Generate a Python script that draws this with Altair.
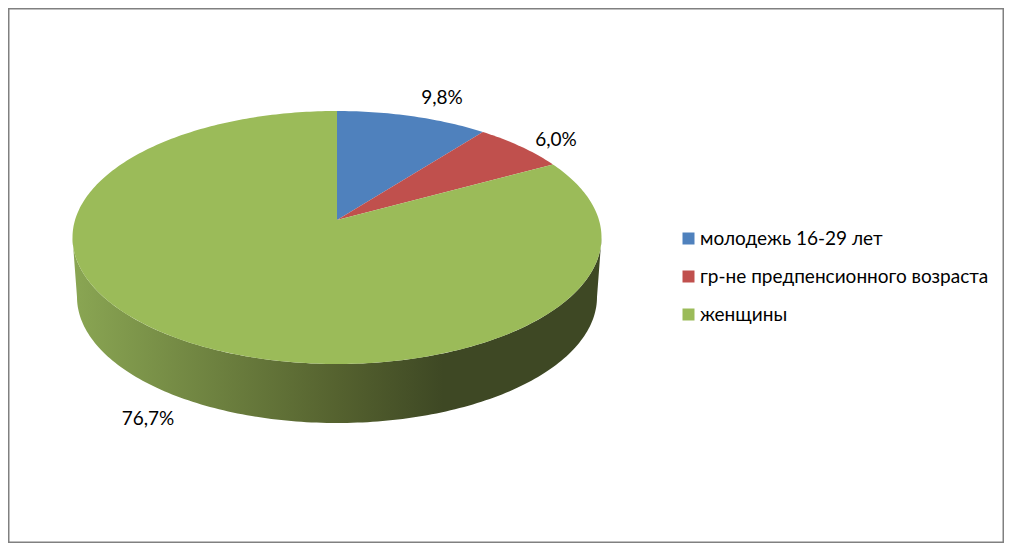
import math
import altair as alt

# --- data ---
categories = ["молодежь 16-29 лет", "гр-не предпенсионного возраста", "женщины"]
shares = [9.8, 6.0, 76.7]
share_labels = ["9,8%", "6,0%", "76,7%"]
colors = ["#4F81BD", "#C0504D", "#9BBB59"]

# --- layout of the tilted disc, in chart pixels (page pixel minus the 8px margin) ---
CX, CY = 329.0, 229.5      # centre of the top ellipse
RX, RY = 264.5, 126.5      # half-axes of the top ellipse
APEX_SHIFT = 17.5          # apex of the slices sits this far above the ellipse centre
BOTTOM_CY, BOTTOM_RX, BOTTOM_RY = 289.0, 260.0, 126.0
label_x = [434, 548, 140]
label_y = [90, 132, 411]

k = APEX_SHIFT / RY
R = RX * math.sqrt(1 - k * k)


def rim(theta):
    """Point of the tilted rim for a clockwise angle from twelve o'clock."""
    u, v = math.sin(theta), math.cos(theta)
    d = 1 + k * v
    return [round(CX + R * u / d, 2), round(CY - (RY * v + APEX_SHIFT) / d, 2)]


total = sum(shares)
features = []
start = 0.0
for name, share in zip(categories, shares):
    end = start + share / total * 2 * math.pi
    steps = max(2, int((end - start) * 60))
    ring = [[CX, CY - APEX_SHIFT]]
    ring += [rim(start + (end - start) * i / steps) for i in range(steps + 1)]
    ring.append([CX, CY - APEX_SHIFT])
    features.append({"type": "Feature", "properties": {"name": name},
                     "geometry": {"type": "Polygon", "coordinates": [ring]}})
    start = end

# side wall: lower half of the top ellipse, then lower half of the bottom ellipse back
wall = []
N = 160
for i in range(N + 1):
    a = math.pi * i / N
    wall.append([round(CX - RX * math.cos(a), 2), round(CY + RY * math.sin(a), 2)])
for i in range(N + 1):
    a = math.pi * i / N
    wall.append([round(CX + BOTTOM_RX * math.cos(a), 2), round(BOTTOM_CY + BOTTOM_RY * math.sin(a), 2)])
wall.append(wall[0])
wall_feature = {"type": "Feature", "properties": {"name": "wall"},
                "geometry": {"type": "Polygon", "coordinates": [wall]}}

proj = dict(type="identity", scale=1, translate=[0, 0], reflectY=False)

wall_layer = alt.Chart(
    alt.InlineData(values={"type": "FeatureCollection", "features": [wall_feature]},
                   format=alt.DataFormat(type="json", property="features"))
).mark_geoshape(
    strokeWidth=0,
    fill=alt.Gradient(
        gradient="linear", x1=0, x2=1, y1=0, y2=0,
        stops=[
            alt.GradientStop(offset=0, color="#8AA653"),
            alt.GradientStop(offset=0.5, color="#55622F"),
            alt.GradientStop(offset=0.7, color="#3E4824"),
            alt.GradientStop(offset=1, color="#3E4824"),
        ],
    ),
).project(**proj)

top_layer = alt.Chart(
    alt.InlineData(values={"type": "FeatureCollection", "features": features},
                   format=alt.DataFormat(type="json", property="features"))
).mark_geoshape(strokeWidth=0).encode(
    color=alt.Color(
        "properties.name:N",
        scale=alt.Scale(domain=categories, range=colors),
        sort=categories,
        legend=alt.Legend(
            title=None, orient="none", legendX=671, legendY=221,
            symbolType="square", symbolSize=144, symbolStrokeWidth=0,
            labelFont="Lato", labelFontSize=19, labelColor="#000000",
            labelLimit=330, rowPadding=18, labelOffset=2,
        ),
    )
).project(**proj)

text_layer = alt.Chart(
    alt.Data(values=[{"t": t, "x": x, "y": y} for t, x, y in zip(share_labels, label_x, label_y)])
).mark_text(font="Lato", fontSize=19, color="#000000", align="center", baseline="middle").encode(
    x=alt.X("x:Q", scale=None, axis=None),
    y=alt.Y("y:Q", scale=None, axis=None),
    text="t:N",
)

chart = alt.layer(wall_layer, top_layer, text_layer).properties(
    width=996, height=535, padding=0, autosize=alt.AutoSizeParams(type="none"),
    background="#FFFFFF",
).configure_view(stroke="#808080", strokeWidth=3)

chart.save("out.html", embed_options={"renderer": "svg", "actions": False})
